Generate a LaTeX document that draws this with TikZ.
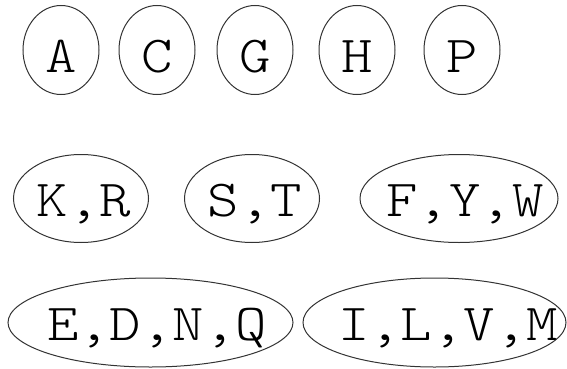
\documentclass[tikz,border=0pt]{standalone}
\usepackage{fontspec}
\newfontfamily\courfont[FakeStretch=1.15]{Latin Modern Mono Light}
\usetikzlibrary{shapes,positioning}

\begin{document}
\begin{tikzpicture}[
    x=1pt, y=1pt,
    grp/.style 2 args={ellipse, draw=black!80, line width=1pt, minimum width=#1, minimum height=#2, inner sep=0pt},
    lbl/.style={anchor=base, inner sep=0pt, font=\courfont\fontsize{52}{60}\selectfont}
]
\useasboundingbox (0,0) rectangle (567,368);

% Single letters
\node[grp={76}{89}] (a) at (61,318) {};
\node[lbl] (a-t) at (61,296) {A};
\node[grp={76}{89}] (c) at (157,318) {};
\node[lbl] (c-t) at (157,296) {C};
\node[grp={76}{89}] (g) at (255,318) {};
\node[lbl] (g-t) at (255,296) {G};
\node[grp={76}{89}] (h) at (357,318) {};
\node[lbl] (h-t) at (357,296) {H};
\node[grp={76}{89}] (p) at (462,318) {};
\node[lbl] (p-t) at (462,296) {P};

% Pairs and triple
\node[grp={135}{88}] (kr) at (81,169.5) {};
\node[lbl] (kr-t) at (84,152) {K,R};
\node[grp={135}{88}] (st) at (252,169.5) {};
\node[lbl] (st-t) at (255,152) {S,T};
\node[grp={198}{88}] (fyw) at (459,169.5) {};
\node[lbl] (fyw-t) at (465,152) {F,Y,W};

% Groups of four
\node[grp={285}{89}] (ednq) at (150.5,45.5) {};
\node[lbl] (ednq-t) at (157,28) {E,D,N,Q};
\node[grp={263}{89}] (ilvm) at (434.5,45.5) {};
\node[lbl] (ilvm-t) at (448,28) {I,L,V,M};
\end{tikzpicture}
\end{document}
